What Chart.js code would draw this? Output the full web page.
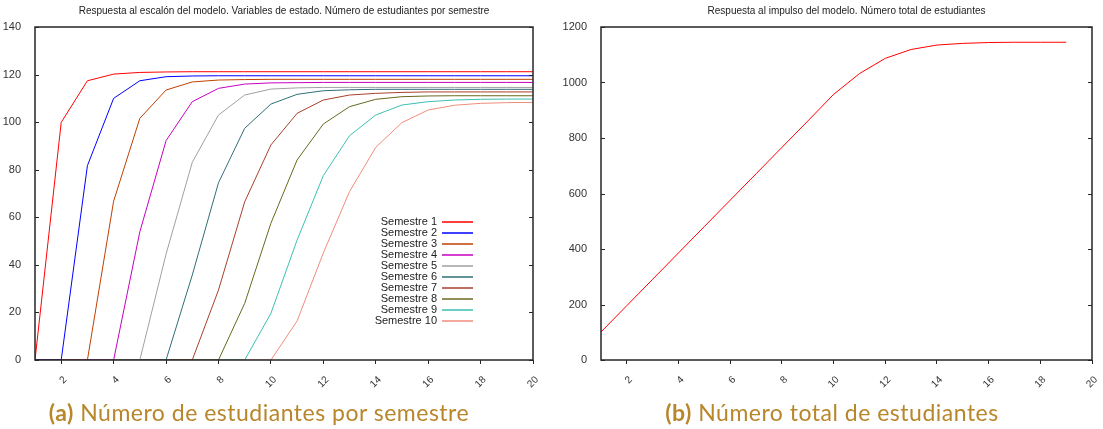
<!DOCTYPE html>
<html lang="es">
<head>
<meta charset="utf-8">
<title>Respuesta del modelo</title>
<script src="https://cdn.jsdelivr.net/npm/chart.js@4.4.1/dist/chart.umd.min.js"></script>
<style>
  html, body { margin: 0; padding: 0; background: #fff; }
  body { width: 1103px; height: 429px; position: relative; overflow: hidden; }
  .box { position: absolute; top: 0; height: 400px; }
  #boxA { left: 0; width: 545px; }
  #boxB { left: 555px; width: 548px; }
  .caption {
    position: absolute; top: 398px;
    font-family: Lato, "Open Sans", sans-serif; font-size: 23px; letter-spacing: 0.5px;
    color: #b8862b; white-space: nowrap; transform: translateX(-50%);
  }
  .caption b { font-weight: 700; }
</style>
</head>
<body>
<div class="box" id="boxA"><canvas id="stepChart"></canvas></div>
<div class="box" id="boxB"><canvas id="totalChart"></canvas></div>
<div class="caption" style="left:259px"><b>(a)</b> Número de estudiantes por semestre</div>
<div class="caption" style="left:832px"><b>(b)</b> Número total de estudiantes</div>
<script>
  // semestres (eje x) y marcas del eje
  const steps = [1, 2, 3, 4, 5, 6, 7, 8, 9, 10, 11, 12, 13, 14, 15, 16, 17, 18, 19, 20];
  const xTickValues = [2, 4, 6, 8, 10, 12, 14, 16, 18, 20];

  const semesterLabels = [
    "Semestre 1", "Semestre 2", "Semestre 3", "Semestre 4", "Semestre 5",
    "Semestre 6", "Semestre 7", "Semestre 8", "Semestre 9", "Semestre 10"
  ];
  const semesterColors = [
    "#ff0000", "#0000ff", "#c04000", "#c800c0", "#a0a0a0",
    "#306e78", "#a8402a", "#68681e", "#3cc0b0", "#f08c7c"
  ];

  // respuesta al escalón
  const semestre1 = [0, 99.9, 117.4, 120.2, 120.9, 121.1, 121.2, 121.2, 121.2, 121.2, 121.2, 121.2, 121.2, 121.2, 121.2, 121.2, 121.2, 121.2, 121.2, 121.2];
  const semestre2 = [0, 0, 81.7, 110.0, 117.4, 119.1, 119.4, 119.5, 119.5, 119.5, 119.5, 119.5, 119.5, 119.5, 119.5, 119.5, 119.5, 119.5, 119.5, 119.5];
  const semestre3 = [0, 0, 0, 66.8, 101.6, 113.5, 116.9, 117.7, 117.9, 118.0, 118.0, 118.0, 118.0, 118.0, 118.0, 118.0, 118.0, 118.0, 118.0, 118.0];
  const semestre4 = [0, 0, 0, 0, 53.9, 92.2, 108.6, 114.2, 116.0, 116.5, 116.6, 116.7, 116.7, 116.7, 116.7, 116.7, 116.7, 116.7, 116.7, 116.7];
  const semestre5 = [0, 0, 0, 0, 0, 44.5, 83.1, 103.0, 111.4, 113.9, 114.4, 114.6, 114.6, 114.6, 114.6, 114.6, 114.6, 114.6, 114.6, 114.6];
  const semestre6 = [0, 0, 0, 0, 0, 0, 35.7, 74.5, 97.4, 107.6, 111.7, 113.2, 113.6, 113.8, 113.8, 113.8, 113.8, 113.8, 113.8, 113.8];
  const semestre7 = [0, 0, 0, 0, 0, 0, 0, 29.4, 66.5, 90.4, 103.7, 109.3, 111.4, 112.1, 112.5, 112.7, 112.7, 112.7, 112.7, 112.7];
  const semestre8 = [0, 0, 0, 0, 0, 0, 0, 0, 23.8, 57.5, 84.1, 99.2, 106.5, 109.6, 110.7, 111.0, 111.1, 111.1, 111.1, 111.1];
  const semestre9 = [0, 0, 0, 0, 0, 0, 0, 0, 0, 19.6, 50.4, 77.5, 94.3, 103.0, 107.2, 108.6, 109.3, 109.6, 109.7, 109.7];
  const semestre10 = [0, 0, 0, 0, 0, 0, 0, 0, 0, 0, 16.4, 45.0, 70.8, 89.4, 99.8, 105.1, 107.1, 107.9, 108.2, 108.3];
  const semesterSeries = [semestre1, semestre2, semestre3, semestre4, semestre5, semestre6, semestre7, semestre8, semestre9, semestre10];

  // respuesta al impulso: total de estudiantes
  const totalSteps = [1, 2, 3, 4, 5, 6, 7, 8, 9, 10, 11, 12, 13, 14, 15, 16, 17, 18, 19];
  const totalStudents = [101, 196, 291, 386, 481, 576, 671, 766, 861, 957, 1032, 1087, 1119, 1135, 1141, 1144, 1145, 1145, 1145];

  const titleA = "Respuesta al escalón del modelo. Variables de estado. Número de estudiantes por semestre";
  const titleB = "Respuesta al impulso del modelo. Número total de estudiantes";

  const chartFont = "'Liberation Sans', Arial, sans-serif";
  const inkColor = "#262626";

  // marco completo y marcas hacia dentro, al estilo gnuplot
  const frameTicks = {
    id: "frameTicks",
    afterDatasetsDraw(chart) {
      const { ctx, chartArea: a, scales } = chart;
      ctx.save();
      ctx.strokeStyle = inkColor;
      ctx.lineWidth = 1.5;
      ctx.strokeRect(a.left, a.top, a.right - a.left, a.bottom - a.top);
      ctx.lineWidth = 1;
      scales.y.ticks.forEach((t) => {
        const py = Math.round(scales.y.getPixelForValue(t.value)) + 0.5;
        ctx.beginPath();
        ctx.moveTo(a.left, py);
        ctx.lineTo(a.left + 4, py);
        ctx.moveTo(a.right, py);
        ctx.lineTo(a.right - 4, py);
        ctx.stroke();
      });
      ctx.restore();
    }
  };

  // leyenda dentro del área, texto a la derecha y muestra de línea
  const innerLegend = {
    id: "innerLegend",
    afterDatasetsDraw(chart) {
      const { ctx } = chart;
      ctx.save();
      ctx.font = "11px " + chartFont;
      ctx.textAlign = "right";
      ctx.textBaseline = "middle";
      chart.data.datasets.forEach((ds, i) => {
        const y = 222 + i * 11;
        ctx.fillStyle = "#222";
        ctx.fillText(ds.label, 437, y);
        ctx.strokeStyle = ds.borderColor;
        ctx.lineWidth = 1.5;
        ctx.beginPath();
        ctx.moveTo(442, y);
        ctx.lineTo(473, y);
        ctx.stroke();
      });
      ctx.restore();
    }
  };

  function buildOptions(title, yMax, yStep, yWidth, rightPad) {
    return {
      responsive: true,
      maintainAspectRatio: false,
      animation: false,
      layout: { padding: { left: 0, right: rightPad, top: 0, bottom: 0 } },
      plugins: {
        legend: { display: false },
        tooltip: { enabled: false },
        title: {
          display: true,
          text: title,
          fullSize: false,
          color: "#222",
          font: { family: chartFont, size: 10, weight: "normal" },
          padding: { top: 5, bottom: 10 }
        }
      },
      scales: {
        x: {
          type: "linear",
          min: 1,
          max: 20,
          afterBuildTicks: (axis) => {
            axis.ticks = xTickValues.map((v) => ({ value: v }));
          },
          afterFit: (axis) => {
            axis.height = 40;
            axis.paddingLeft = 0;
            axis.paddingRight = 0;
          },
          grid: { display: true, drawOnChartArea: false, drawTicks: true, tickLength: 4, color: inkColor },
          border: { display: false },
          ticks: {
            minRotation: 45,
            maxRotation: 45,
            padding: 10,
            labelOffset: 4,
            color: "#333",
            font: { family: chartFont, size: 10 },
            callback: (v) => String(v)
          }
        },
        y: {
          min: 0,
          max: yMax,
          afterFit: (axis) => {
            axis.width = yWidth;
            axis.paddingTop = 0;
            axis.paddingBottom = 0;
          },
          grid: { display: false },
          border: { display: false },
          ticks: {
            stepSize: yStep,
            padding: 6,
            color: "#333",
            font: { family: chartFont, size: 11 },
            callback: (v) => String(v)
          }
        }
      }
    };
  }

  new Chart(document.getElementById("stepChart"), {
    type: "line",
    data: {
      datasets: semesterSeries.map((series, i) => ({
        label: semesterLabels[i],
        data: series.map((v, j) => ({ x: steps[j], y: v })),
        borderColor: semesterColors[i],
        borderWidth: 1,
        pointRadius: 0,
        fill: false,
        tension: 0
      }))
    },
    options: buildOptions(titleA, 140, 20, 35, 12),
    plugins: [frameTicks, innerLegend]
  });

  new Chart(document.getElementById("totalChart"), {
    type: "line",
    data: {
      datasets: [
        {
          label: "Total",
          data: totalStudents.map((v, j) => ({ x: totalSteps[j], y: v })),
          borderColor: "#ff0000",
          borderWidth: 1,
          pointRadius: 0,
          fill: false,
          tension: 0
        }
      ]
    },
    options: buildOptions(titleB, 1200, 200, 46, 11),
    plugins: [frameTicks]
  });
</script>
</body>
</html>
